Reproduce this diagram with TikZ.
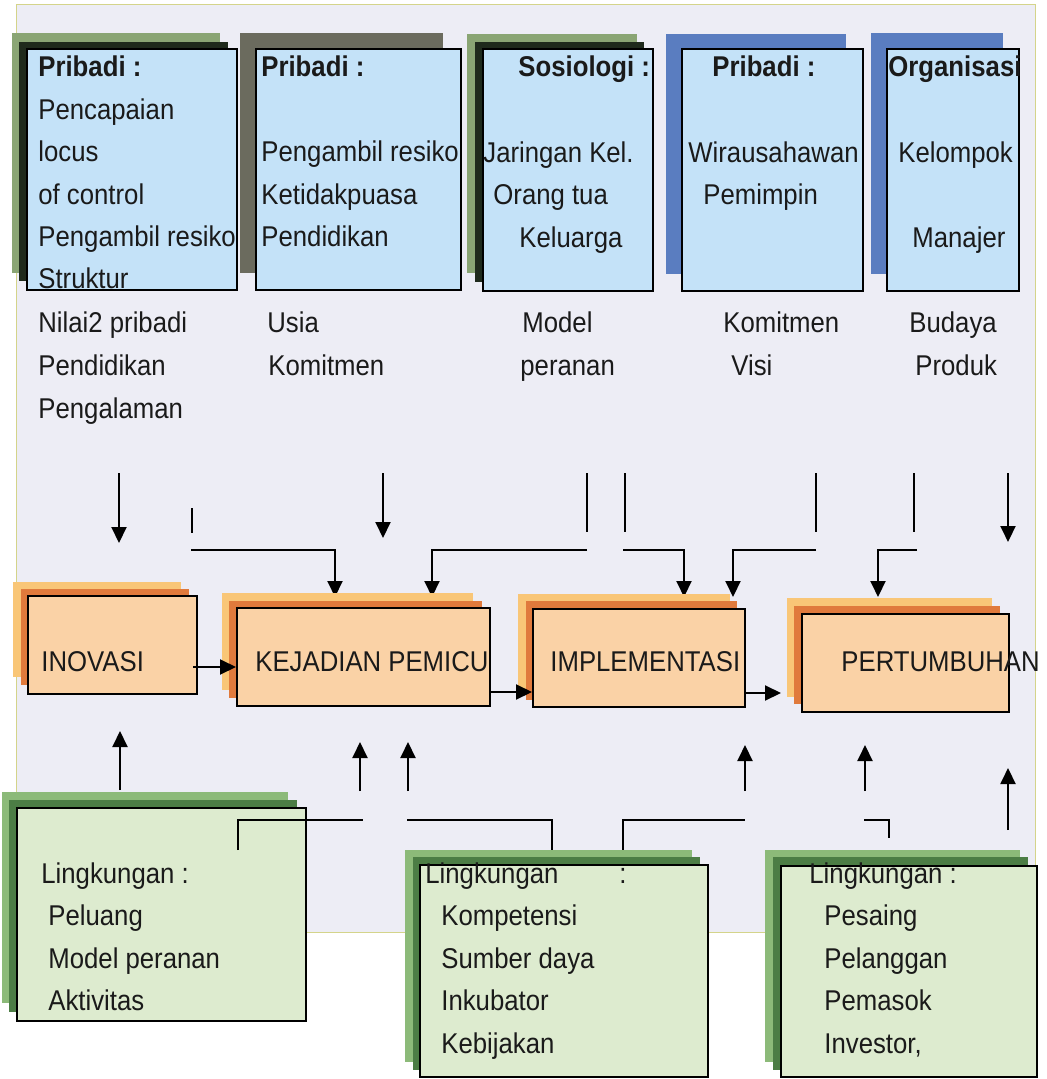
\documentclass[tikz,border=0pt]{standalone}
\usepackage{fontspec}
\setmainfont[FakeStretch=0.9]{Liberation Sans}
\usetikzlibrary{arrows.meta,fit}
\definecolor{bgcol}{HTML}{EDEDF5}
\definecolor{bordcol}{HTML}{D4D48A}
\definecolor{bluefront}{HTML}{C4E2F8}
\definecolor{olivelight}{HTML}{8AA574}
\definecolor{olivedark}{HTML}{1F2A1C}
\definecolor{greyshadow}{HTML}{6B6B5E}
\definecolor{blueshadow}{HTML}{5A7DC0}
\definecolor{orfront}{HTML}{FAD2A6}
\definecolor{ormid}{HTML}{E07A3C}
\definecolor{orlight}{HTML}{F9C677}
\definecolor{grfront}{HTML}{DDEBCF}
\definecolor{grdark}{HTML}{4C7D45}
\definecolor{grlight}{HTML}{8CBA79}
\definecolor{txtcol}{HTML}{1A1A1A}
\begin{document}
\begin{tikzpicture}[x=0.5pt,y=-0.5pt,
  txt/.style={anchor=base west, inner sep=0pt, text=txtcol, font=\fontsize{14.3pt}{16pt}\selectfont},
  btxt/.style={txt, font=\fontsize{14.3pt}{16pt}\selectfont\bfseries},
  frontbox/.style={draw=black, line width=1pt, inner sep=0pt},
  arr/.style={line width=1pt, -{Triangle[length=8pt,width=7.5pt]}},
  ln/.style={line width=1pt}]
\useasboundingbox (0,0) rectangle (1046,1079);
% background panel
\filldraw[fill=bgcol, draw=bordcol, line width=0.5pt] (16,5) rectangle (1035,932);

% ---------- top boxes ----------
\fill[olivelight] (12,33) rectangle (220,273);
\fill[olivedark] (19,42) rectangle (228,281);
\node[frontbox, fill=bluefront, fit={(27,49)(237,290)}] (p1) {};
\fill[greyshadow] (240,33) rectangle (443,273);
\node[frontbox, fill=bluefront, fit={(256,49)(461,290)}] (p2) {};
\fill[olivelight] (467,34) rectangle (637,273);
\fill[olivedark] (475,42) rectangle (644,282);
\node[frontbox, fill=bluefront, fit={(483,49)(653,291)}] (p3) {};
\fill[blueshadow] (666,34) rectangle (846,274);
\node[frontbox, fill=bluefront, fit={(682,49)(863,291)}] (p4) {};
\fill[blueshadow] (871,33) rectangle (1003,274);
\node[frontbox, fill=bluefront, fit={(887,49)(1019,291)}] (p5) {};

% texts box 1
\node[btxt] (t1a) at (38,77) {Pribadi :};
\node[txt] (t1b) at (38,120) {Pencapaian};
\node[txt] (t1c) at (38,162) {locus};
\node[txt] (t1d) at (38,205) {of control};
\node[txt] (t1e) at (38,247) {Pengambil resiko};
\node[txt] (t1f) at (38,289) {Struktur};
\node[txt] (t1g) at (38,333) {Nilai2 pribadi};
\node[txt] (t1h) at (38,376) {Pendidikan};
\node[txt] (t1i) at (38,418) {Pengalaman};
% texts box 2
\node[btxt] (t2a) at (261,77) {Pribadi :};
\node[txt] (t2b) at (261,162) {Pengambil resiko};
\node[txt] (t2c) at (261,205) {Ketidakpuasa};
\node[txt] (t2d) at (261,247) {Pendidikan};
\node[txt] (t2e) at (267,333) {Usia};
\node[txt] (t2f) at (268,376) {Komitmen};
% texts box 3
\node[btxt] (t3a) at (518,77) {Sosiologi :};
\node[txt] (t3b) at (483,163) {Jaringan Kel.};
\node[txt] (t3c) at (493,205) {Orang tua};
\node[txt] (t3d) at (519,248) {Keluarga};
\node[txt] (t3e) at (522,333) {Model};
\node[txt] (t3f) at (520,376) {peranan};
% texts box 4
\node[btxt] (t4a) at (712,77) {Pribadi :};
\node[txt] (t4b) at (688,163) {Wirausahawan};
\node[txt] (t4c) at (703,205) {Pemimpin};
\node[txt] (t4d) at (723,333) {Komitmen};
\node[txt] (t4e) at (731,376) {Visi};
% texts box 5
\node[btxt] (t5a) at (888,77) {Organisasi};
\node[txt] (t5b) at (898,163) {Kelompok};
\node[txt] (t5c) at (912,248) {Manajer};
\node[txt] (t5d) at (909,333) {Budaya};
\node[txt] (t5e) at (915,376) {Produk};

% ---------- connectors from the top ----------
\coordinate (a1s) at (119,473); \coordinate (a1e) at (119,543);
\coordinate (s1a) at (192,508); \coordinate (s1b) at (192,533);
\coordinate (h1a) at (191,550); \coordinate (h1b) at (335,550); \coordinate (h1c) at (335,597);
\coordinate (a2s) at (383,473); \coordinate (a2e) at (383,538);
\coordinate (s2a) at (587,473); \coordinate (s2b) at (587,532);
\coordinate (h2a) at (587,550); \coordinate (h2b) at (432,550); \coordinate (h2c) at (432,597);
\coordinate (s3a) at (625,473); \coordinate (s3b) at (625,532);
\coordinate (h3a) at (623,550); \coordinate (h3b) at (684,550); \coordinate (h3c) at (684,597);
\coordinate (s4a) at (816,473); \coordinate (s4b) at (816,532);
\coordinate (h4a) at (816,550); \coordinate (h4b) at (733,550); \coordinate (h4c) at (733,597);
\coordinate (s5a) at (914,473); \coordinate (s5b) at (914,532);
\coordinate (h5a) at (917,550); \coordinate (h5b) at (878,550); \coordinate (h5c) at (878,597);
\coordinate (a3s) at (1008,473); \coordinate (a3e) at (1008,542);
\draw[arr] (a1s) -- (a1e);
\draw[ln] (s1a) -- (s1b);
\draw[arr] (h1a) -- (h1b) -- (h1c);
\draw[arr] (a2s) -- (a2e);
\draw[ln] (s2a) -- (s2b);
\draw[arr] (h2a) -- (h2b) -- (h2c);
\draw[ln] (s3a) -- (s3b);
\draw[arr] (h3a) -- (h3b) -- (h3c);
\draw[ln] (s4a) -- (s4b);
\draw[arr] (h4a) -- (h4b) -- (h4c);
\draw[ln] (s5a) -- (s5b);
\draw[arr] (h5a) -- (h5b) -- (h5c);
\draw[arr] (a3s) -- (a3e);

% ---------- process boxes ----------
\fill[orlight] (13,582) rectangle (181,677);
\fill[ormid] (21,589) rectangle (189,685);
\node[frontbox, fill=orfront, fit={(28,596)(197,694)}] (inov) {};
\fill[orlight] (222,593) rectangle (473,690);
\fill[ormid] (229,601) rectangle (482,698);
\node[frontbox, fill=orfront, fit={(237,608)(490,706)}] (kej) {};
\fill[orlight] (518,594) rectangle (730,692);
\fill[ormid] (526,601) rectangle (737,700);
\node[frontbox, fill=orfront, fit={(533,609)(745,707)}] (impl) {};
\fill[orlight] (787,598) rectangle (992,697);
\fill[ormid] (794,606) rectangle (1000,704);
\node[frontbox, fill=orfront, fit={(802,614)(1009,712)}] (pert) {};
\node[txt] (tinov) at (41,671) {INOVASI};
\node[txt] (tkej) at (255,671) {KEJADIAN PEMICU};
\node[txt] (timpl) at (550,671) {IMPLEMENTASI};
\node[txt] (tpert) at (841,671) {PERTUMBUHAN};

\draw[arr] (193,667) -- (kej.west |- 0,667);
\draw[arr] (kej.east |- 0,692) -- (impl.west |- 0,692);
\draw[arr] (impl.east |- 0,693) -- (781,693);

% ---------- connectors from the bottom ----------
\coordinate (b1s) at (120,790); \coordinate (b1e) at (120,731);
\coordinate (b2s) at (360,791); \coordinate (b2e) at (360,742);
\coordinate (b3s) at (408,791); \coordinate (b3e) at (408,742);
\coordinate (b4s) at (745,791); \coordinate (b4e) at (745,745);
\coordinate (b5s) at (865,791); \coordinate (b5e) at (865,745);
\coordinate (b6s) at (1008,830); \coordinate (b6e) at (1008,768);
\coordinate (g1a) at (238,850); \coordinate (g1b) at (238,820); \coordinate (g1c) at (363,820);
\coordinate (g2a) at (407,820); \coordinate (g2b) at (552,820); \coordinate (g2c) at (552,852);
\coordinate (g3a) at (623,852); \coordinate (g3b) at (623,820); \coordinate (g3c) at (745,820);
\coordinate (g4a) at (864,820); \coordinate (g4b) at (889,820); \coordinate (g4c) at (889,838);
\draw[arr] (b1s) -- (b1e);
\draw[arr] (b2s) -- (b2e);
\draw[arr] (b3s) -- (b3e);
\draw[arr] (b4s) -- (b4e);
\draw[arr] (b5s) -- (b5e);
\draw[arr] (b6s) -- (b6e);
\draw[ln] (g2a) -- (g2b) -- (g2c);
\draw[ln] (g3a) -- (g3b) -- (g3c);
\draw[ln] (g4a) -- (g4b) -- (g4c);

% ---------- environment boxes ----------
\fill[grlight] (2,792) rectangle (288,1003);
\fill[grdark] (9,800) rectangle (297,1012);
\node[frontbox, fill=grfront, fit={(17,808)(306,1021)}] (e1) {};
\draw[ln] (g1a) -- (g1b) -- (g1c);
\fill[grlight] (405,850) rectangle (692,1062);
\fill[grdark] (413,857) rectangle (700,1070);
\node[frontbox, fill=grfront, fit={(420,865)(708,1077)}] (e2) {};
\fill[grlight] (765,850) rectangle (1020,1062);
\fill[grdark] (773,857) rectangle (1028,1070);
\node[frontbox, fill=grfront, fit={(781,866)(1037,1077)}] (e3) {};

\node[txt] (e1a) at (41,883) {Lingkungan :};
\node[txt] (e1b) at (48,925) {Peluang};
\node[txt] (e1c) at (48,968) {Model peranan};
\node[txt] (e1d) at (48,1010) {Aktivitas};

\node[txt] (e2a) at (425,883) {Lingkungan};
\node[txt] (e2x) at (619,883) {:};
\node[txt] (e2b) at (441,925) {Kompetensi};
\node[txt] (e2c) at (441,968) {Sumber daya};
\node[txt] (e2d) at (441,1010) {Inkubator};
\node[txt] (e2e) at (441,1053) {Kebijakan};

\node[txt] (e3a) at (809,883) {Lingkungan :};
\node[txt] (e3b) at (824,925) {Pesaing};
\node[txt] (e3c) at (824,968) {Pelanggan};
\node[txt] (e3d) at (824,1010) {Pemasok};
\node[txt] (e3e) at (824,1053) {Investor,};
\end{tikzpicture}
\end{document}
